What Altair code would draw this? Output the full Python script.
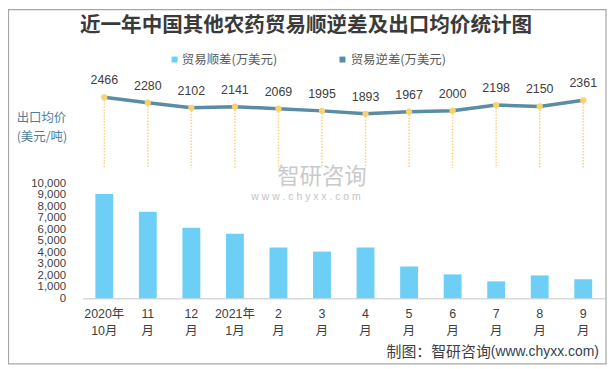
import altair as alt
import pandas as pd

# ---- data ----
categories = ["2020年|10月", "11|月", "12|月", "2021年|1月", "2|月", "3|月",
              "4|月", "5|月", "6|月", "7|月", "8|月", "9|月"]
surplus = [9090, 7530, 6150, 5630, 4420, 4070, 4420, 2770, 2080, 1470, 1990, 1650]
price = [2466, 2280, 2102, 2141, 2069, 1995, 1893, 1967, 2000, 2198, 2150, 2361]
y_ticks = [0, 1000, 2000, 3000, 4000, 5000, 6000, 7000, 8000, 9000, 10000]

df = pd.DataFrame({"month": categories, "surplus": surplus, "price": price})

W, H = 526, 229
FONT = "Liberation Sans, Noto Sans CJK SC, sans-serif"
CJK = "Noto Sans CJK SC, sans-serif"
TXT = "#404040"
BAR = "#6DCFF6"
LINE = "#5A8CA5"
GOLD = "#F9D16F"

x = alt.X("month:N", sort=categories,
          scale=alt.Scale(paddingInner=0.59, paddingOuter=0.295),
          axis=alt.Axis(title=None, labelAngle=0, labelExpr="split(datum.label, '|')",
                        labelFontSize=12.5, labelColor=TXT, labelPadding=9,
                        labelLineHeight=17, ticks=False, domainColor="#D9D9D9",
                        domainWidth=1.5, labelFont=FONT, grid=False))

bars = alt.Chart(df).mark_bar(color=BAR).encode(
    x=x,
    y=alt.Y("surplus:Q", scale=alt.Scale(domain=[0, 19827], nice=False),
            axis=alt.Axis(title=None, values=y_ticks,
                          labelExpr="format(datum.value, ',')", labelOverlap=False,
                          ticks=False, domain=False, grid=False, labelPadding=17,
                          labelFontSize=11.5, labelColor=TXT, labelFont=FONT)),
)

ly = alt.Y("price:Q", scale=alt.Scale(domain=[-4510, 3387], nice=False, zero=False), axis=None)

rules = alt.Chart(df).mark_rule(color="#F8D37F", strokeDash=[1.5, 1.5], strokeWidth=1.5).encode(
    x=x, y=ly, y2=alt.datum(0))
line = alt.Chart(df).mark_line(color=LINE, strokeWidth=3.5).encode(x=x, y=ly)
points = alt.Chart(df).mark_point(filled=True, size=40, color=GOLD, opacity=1).encode(x=x, y=ly)
labels = alt.Chart(df).mark_text(dy=-17, fontSize=12.5, color=TXT, font=FONT).encode(
    x=x, y=ly, text="price:Q")

price_layer = alt.layer(rules, line, points, labels)


def txt(s, px, py, **kw):
    return alt.Chart(pd.DataFrame({"t": [s]})).mark_text(**kw).encode(
        x=alt.value(px), y=alt.value(py), text="t:N")


def square(px, py, color):
    return alt.Chart(pd.DataFrame({"t": [0]})).mark_square(size=36, color=color, opacity=1).encode(
        x=alt.value(px), y=alt.value(py))


border = alt.Chart(pd.DataFrame({"t": [0]})).mark_rect(
    fillOpacity=0, stroke="#A6A6A6", strokeWidth=1.2).encode(
    x=alt.value(-74.5), x2=alt.value(527), y=alt.value(-61.5), y2=alt.value(295))

title = txt("近一年中国其他农药贸易顺逆差及出口均价统计图", 225, -45, font=CJK,
            fontSize=20.7, fontWeight="bold", color="#3A3A3A")
leg1 = square(92.7, -11.3, BAR)
leg1t = txt("贸易顺差(万美元)", 100, -11.3, font=CJK, fontSize=12.5, color="#595959", align="left")
leg2 = square(261.7, -11.3, LINE)
leg2t = txt("贸易逆差(万美元)", 270, -11.3, font=CJK, fontSize=12.5, color="#595959", align="left")
side1 = txt("出口均价", -66.3, 48, font=CJK, fontSize=12.5, color="#4E7E9B", align="left")
side2 = txt("(美元/吨)", -66.3, 67, font=CJK, fontSize=12.5, color="#4E7E9B", align="left")
wm1 = txt("智研咨询", 241, 106.5, font=CJK, fontSize=22.5, color="#CACACA")
wm2 = txt("w w w . c h y x x . c o m", 225, 127.5, font=FONT, fontSize=10.5, color="#C4C4C4")
src1 = txt("制图：智研咨询", 411, 283, font=CJK, fontSize=15, color=TXT, align="right")
src2 = txt("(www.chyxx.com)", 411, 283, font=FONT, fontSize=14, color="#333F50", align="left")

chart = alt.layer(
    border, wm1, wm2, bars, price_layer, title, leg1, leg1t, leg2, leg2t,
    side1, side2, src1, src2,
).resolve_scale(y="independent").properties(
    width=W, height=H,
    autosize=alt.AutoSizeParams(type="none"),
    padding={"left": 75, "top": 62, "right": 3, "bottom": 67},
    background="white",
).configure_view(stroke=None)

chart.save("out.html", embed_options={"renderer": "svg", "actions": False})
